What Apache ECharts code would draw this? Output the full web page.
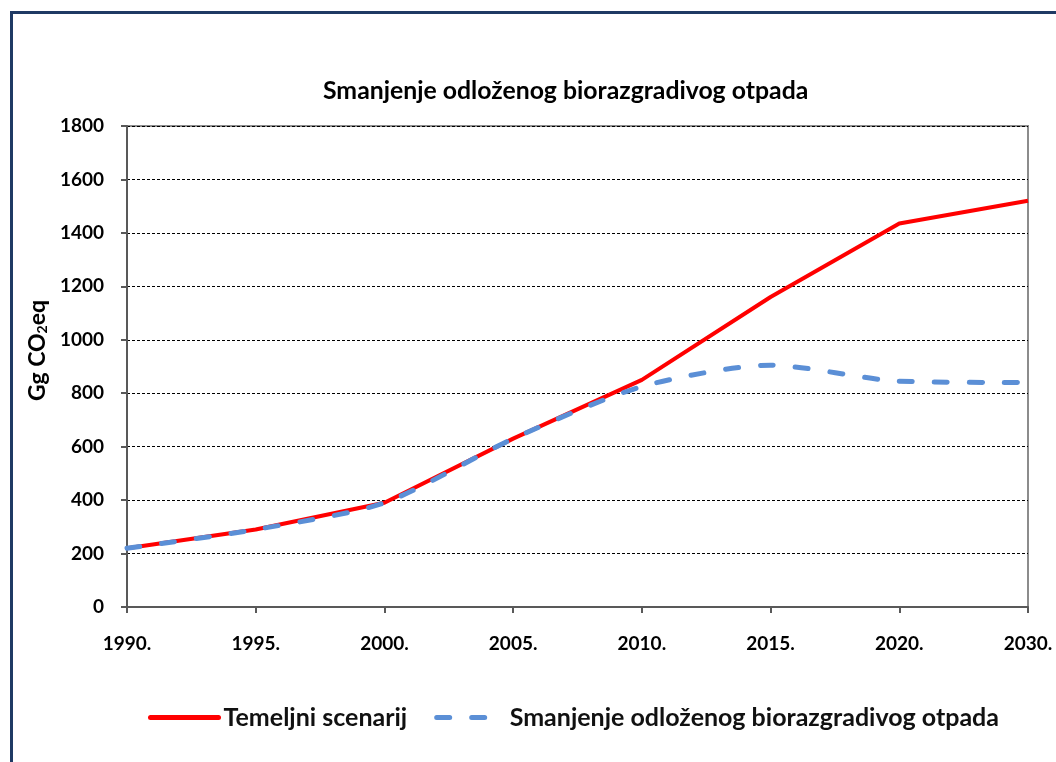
<!DOCTYPE html>
<html>
<head>
<meta charset="utf-8">
<script src="https://cdn.jsdelivr.net/npm/echarts@6/dist/echarts.min.js"></script>
<style>
  html, body { margin: 0; padding: 0; background: #fff; }
  #frame { position: absolute; left: 10px; top: 11px; width: 1046px; height: 751px;
           border-left: 3px solid #1f3a64; border-top: 3px solid #1f3a64; box-sizing: border-box; }
  #chart { position: absolute; left: 0; top: 0; width: 1056px; height: 762px; }
</style>
</head>
<body>
<div id="frame"></div>
<div id="chart"></div>
<script>
// podaci
const years = ['1990.', '1995.', '2000.', '2005.', '2010.', '2015.', '2020.', '2030.'];
const temeljni = [220, 290, 390, 630, 850, 1160, 1435, 1520];
const smanjenje = [220, 290, 390, 630, 825, 905, 845, 840];

const FONT = 'Lato, "Open Sans", sans-serif';

const chart = echarts.init(document.getElementById('chart'));

const option = {
  backgroundColor: 'transparent',
  title: {
    text: 'Smanjenje odloženog biorazgradivog otpada',
    left: 318,
    top: 74,
    textStyle: { fontFamily: FONT, fontSize: 24.8, fontWeight: 'bold', color: '#000' }
  },
  legend: {
    left: 143,
    top: 700,
    itemWidth: 68,
    itemHeight: 14,
    itemGap: 27,
    itemStyle: { opacity: 0 },
    lineStyle: { width: 5, cap: 'round' },
    textStyle: { fontFamily: FONT, fontSize: 25, fontWeight: 'bold', color: '#111' },
    data: ['Temeljni scenarij', 'Smanjenje odloženog biorazgradivog otpada']
  },
  grid: {
    left: 127,
    right: 28,
    top: 126,
    bottom: 155,
    show: true,
    borderColor: '#8c8c8c',
    borderWidth: 2,
    containLabel: false
  },
  xAxis: {
    type: 'category',
    data: years,
    boundaryGap: false,
    axisLine: { lineStyle: { color: '#595959', width: 2 } },
    axisTick: { show: true, length: 6, lineStyle: { color: '#595959', width: 2 } },
    axisLabel: { margin: 27, fontFamily: FONT, fontSize: 19, fontWeight: 'bold', color: '#000' },
    splitLine: { show: false }
  },
  yAxis: {
    type: 'value',
    min: 0,
    max: 1800,
    interval: 200,
    name: '{a|Gg CO}{s|2}{a|eq}',
    nameLocation: 'middle',
    nameGap: 72,
    nameTextStyle: {
      padding: [0, 0, 0, 32],
      rich: {
        a: { fontFamily: FONT, fontSize: 23, fontWeight: 'bold', color: '#000' },
        s: { fontFamily: FONT, fontSize: 14, fontWeight: 'bold', color: '#000', verticalAlign: 'bottom', padding: [9, 0, 0, 0] }
      }
    },
    axisLine: { show: true, lineStyle: { color: '#595959', width: 2 } },
    axisTick: { show: true, length: 6, lineStyle: { color: '#595959', width: 2 } },
    axisLabel: {
      margin: 23, fontFamily: FONT, fontSize: 19, fontWeight: 'bold', color: '#000',
      formatter: v => String(v)
    },
    splitLine: { show: true, lineStyle: { color: '#000', width: 1, type: [3, 2] } }
  },
  series: [
    {
      name: 'Temeljni scenarij',
      type: 'line',
      data: temeljni,
      symbol: 'none',
      smooth: false,
      lineStyle: { color: '#ff0000', width: 4 },
      itemStyle: { color: '#ff0000' },
      z: 2
    },
    {
      name: 'Smanjenje odloženog biorazgradivog otpada',
      type: 'line',
      data: smanjenje,
      symbol: 'none',
      smooth: 0.25,
      lineStyle: { color: '#5b8fd6', width: 5, type: [13, 22], cap: 'round' },
      itemStyle: { color: '#5b8fd6' },
      z: 3
    }
  ]
};

chart.setOption(option);
</script>
</body>
</html>
